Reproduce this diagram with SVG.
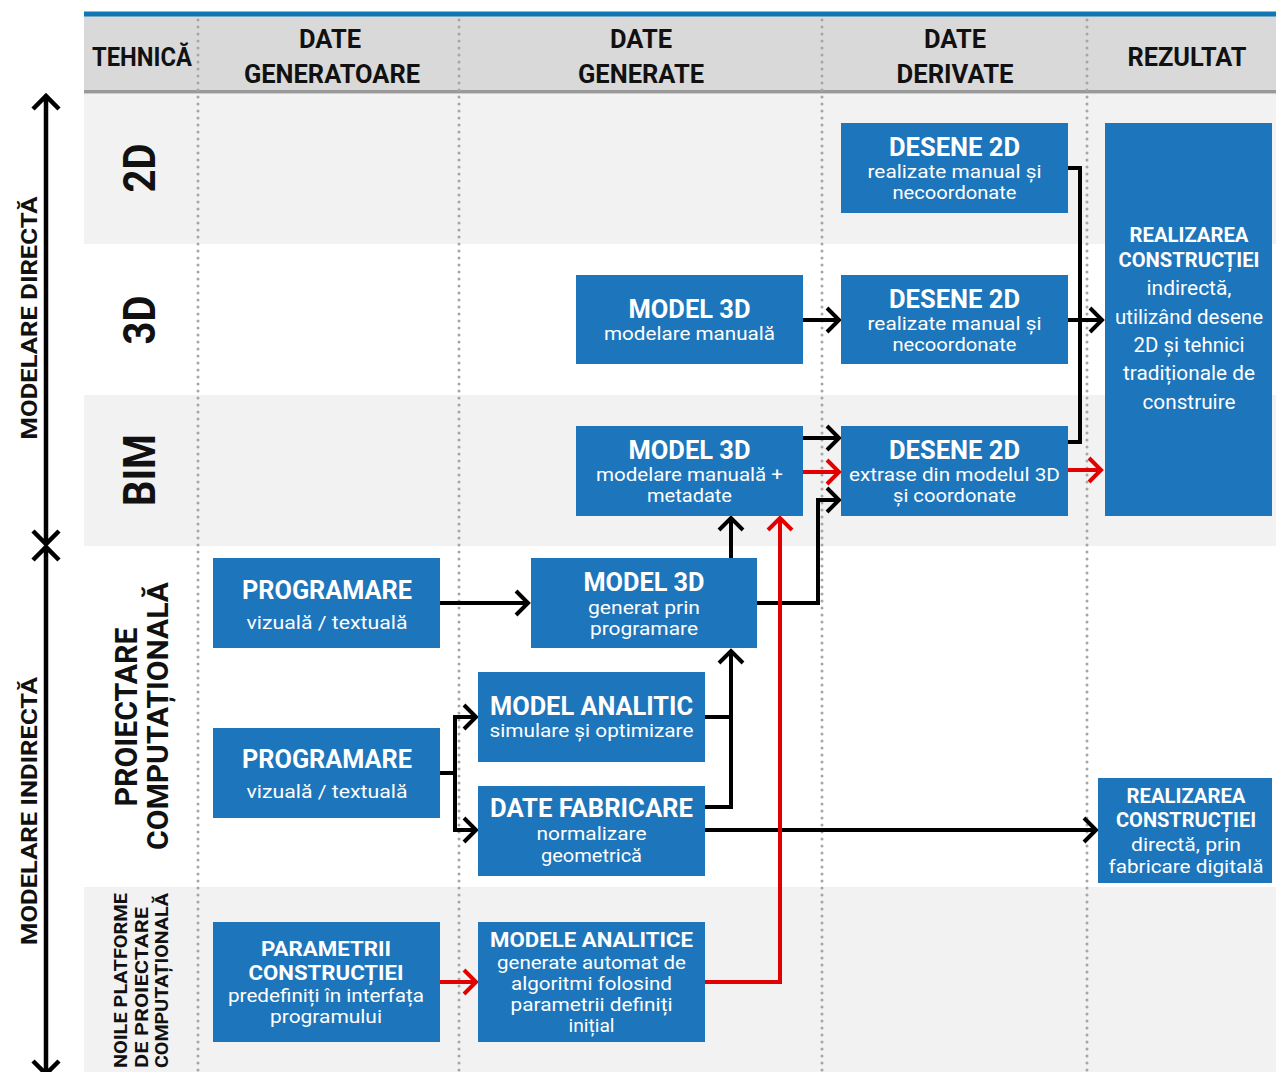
<svg xmlns="http://www.w3.org/2000/svg" width="1276" height="1072" viewBox="0 0 1276 1072">
  <defs>
    <style>
      .hd { font-family: Roboto, "Liberation Sans", sans-serif; font-weight: 700; font-size: 25px; fill: #111; text-anchor: middle; }
      .rl { font-family: Roboto, "Liberation Sans", sans-serif; font-weight: 700; fill: #111; text-anchor: middle; }
      .rs { font-family: Roboto, "Liberation Sans", sans-serif; font-weight: 700; font-size: 19px; fill: #111; text-anchor: start; }
      .ax { font-family: Roboto, "Liberation Sans", sans-serif; font-weight: 700; font-size: 22px; fill: #111; text-anchor: middle; }
      .box { fill: #1d75bb; }
      .t { font-family: Roboto, "Liberation Sans", sans-serif; font-weight: 700; font-size: 25px; fill: #fff; text-anchor: middle; }
      .t2 { font-family: Roboto, "Liberation Sans", sans-serif; font-weight: 700; font-size: 21px; fill: #fff; text-anchor: middle; }
      .s { font-family: Roboto, "Liberation Sans", sans-serif; font-weight: 400; font-size: 19px; fill: #fff; text-anchor: middle; }
      .s2 { font-family: Roboto, "Liberation Sans", sans-serif; font-weight: 400; font-size: 20px; fill: #fff; text-anchor: middle; }
      .dots { stroke: #a6a6a6; stroke-width: 3; stroke-linecap: round; stroke-dasharray: 0 7; fill: none; }
      .k { stroke: #000; stroke-width: 4; fill: none; stroke-linejoin: miter; }
      .r { stroke: #e30000; stroke-width: 4; fill: none; stroke-linejoin: miter; }
      .axis { stroke: #000; stroke-width: 4.5; fill: none; }
    </style>
  </defs>

  <!-- table background -->
  <g id="table">
    <rect x="0" y="0" width="1276" height="1072" fill="#fff"/>
    <rect x="84" y="16" width="1192" height="75" fill="#d9d9d9"/>
    <rect x="84" y="11.5" width="1192" height="5" fill="#1276b5"/>
    <rect x="84" y="90" width="1192" height="3.5" fill="#999"/>
    <rect x="84" y="94" width="1192" height="150" fill="#f2f2f2"/>
    <rect x="84" y="395" width="1192" height="151" fill="#f2f2f2"/>
    <rect x="84" y="887" width="1192" height="185" fill="#f2f2f2"/>
    <path class="dots" d="M198,20 V1072 M459,20 V1072 M822,20 V1072 M1087,20 V1072"/>
  </g>

  <!-- column headers -->
  <g id="headers">
    <text class="hd" x="142" y="66" textLength="100" lengthAdjust="spacingAndGlyphs">TEHNICĂ</text>
    <text class="hd" x="330" y="48" textLength="62" lengthAdjust="spacingAndGlyphs">DATE</text>
    <text class="hd" x="332" y="83" textLength="176" lengthAdjust="spacingAndGlyphs">GENERATOARE</text>
    <text class="hd" x="641" y="48" textLength="62" lengthAdjust="spacingAndGlyphs">DATE</text>
    <text class="hd" x="641" y="83" textLength="126" lengthAdjust="spacingAndGlyphs">GENERATE</text>
    <text class="hd" x="955" y="48" textLength="62" lengthAdjust="spacingAndGlyphs">DATE</text>
    <text class="hd" x="955" y="83" textLength="117" lengthAdjust="spacingAndGlyphs">DERIVATE</text>
    <text class="hd" x="1187" y="66" textLength="119" lengthAdjust="spacingAndGlyphs">REZULTAT</text>
  </g>

  <!-- left axis -->
  <g id="axis">
    <path class="axis" d="M46,96 V543 M33,109 L46,96 L59,109 M33,531 L46,544 L59,531"/>
    <path class="axis" d="M46,547 V1072 M33,560 L46,547 L59,560 M33,1061 L46,1074 L59,1061"/>
    <text class="ax" transform="translate(37,318) rotate(-90)" textLength="243" lengthAdjust="spacingAndGlyphs">MODELARE DIRECTĂ</text>
    <text class="ax" transform="translate(37,811) rotate(-90)" textLength="268" lengthAdjust="spacingAndGlyphs">MODELARE INDIRECTĂ</text>
  </g>

  <!-- row labels -->
  <g id="rows">
    <text class="rl" font-size="44" transform="translate(155,168) rotate(-90)" textLength="49" lengthAdjust="spacingAndGlyphs">2D</text>
    <text class="rl" font-size="44" transform="translate(155,320) rotate(-90)" textLength="49" lengthAdjust="spacingAndGlyphs">3D</text>
    <text class="rl" font-size="44" transform="translate(155,470) rotate(-90)" textLength="72" lengthAdjust="spacingAndGlyphs">BIM</text>
    <text class="rl" font-size="32" transform="translate(137,717) rotate(-90)" textLength="179" lengthAdjust="spacingAndGlyphs">PROIECTARE</text>
    <text class="rl" font-size="30" transform="translate(168,716) rotate(-90)" textLength="268" lengthAdjust="spacingAndGlyphs">COMPUTAȚIONALĂ</text>
    <text class="rs" transform="translate(127,1068) rotate(-90)" textLength="175" lengthAdjust="spacingAndGlyphs">NOILE PLATFORME</text>
    <text class="rs" transform="translate(148,1068) rotate(-90)" textLength="161" lengthAdjust="spacingAndGlyphs">DE PROIECTARE</text>
    <text class="rs" transform="translate(168,1068) rotate(-90)" textLength="175" lengthAdjust="spacingAndGlyphs">COMPUTAȚIONALĂ</text>
  </g>

  <!-- connectors -->
  <g id="connectors">
    <!-- 2D / 3D / BIM drawings into indirect construction -->
    <path class="k" d="M1068,168 H1080 V442 H1068"/>
    <path class="k" d="M1068,320 H1102 M1090,308 L1102,320 L1090,332"/>
    <path class="r" d="M1068,470 H1101 M1089,458 L1101,470 L1089,482"/>
    <!-- model 3D to drawings -->
    <path class="k" d="M803,320 H839 M827,308 L839,320 L827,332"/>
    <path class="k" d="M803,438 H839 M827,426 L839,438 L827,450"/>
    <path class="r" d="M803,472 H839 M827,460 L839,472 L827,484"/>
    <path class="k" d="M757,603 H818 V500 H839 M827,488 L839,500 L827,512"/>
    <!-- generated model upward -->
    <path class="k" d="M731,558 V518 M719,530 L731,518 L743,530"/>
    <path class="k" d="M440,603 H528 M516,591 L528,603 L516,615"/>
    <!-- programming branches -->
    <path class="k" d="M440,773 H455 V717 H476 M455,773 V830 H476 M464,705 L476,717 L464,729 M464,818 L476,830 L464,842"/>
    <path class="k" d="M705,717 H731 V651 M705,807 H731 V717 M719,663 L731,651 L743,663"/>
    <path class="k" d="M705,830 H1096 M1084,818 L1096,830 L1084,842"/>
    <!-- new platforms -->
    <path class="r" d="M440,982 H476 M464,970 L476,982 L464,994"/>
    <path class="r" d="M705,982 H780 V518 M768,530 L780,518 L792,530"/>
  </g>

  <!-- nodes -->
  <g id="desene-2d">
    <rect class="box" x="841" y="123" width="227" height="90"/>
    <text class="t" x="954.5" y="156" textLength="131" lengthAdjust="spacingAndGlyphs">DESENE 2D</text>
    <text class="s" x="954.5" y="178" textLength="174" lengthAdjust="spacingAndGlyphs">realizate manual și</text>
    <text class="s" x="954.5" y="199" textLength="124" lengthAdjust="spacingAndGlyphs">necoordonate</text>
  </g>

  <g id="model-3d-manual">
    <rect class="box" x="576" y="275" width="227" height="89"/>
    <text class="t" x="689.5" y="318" textLength="122" lengthAdjust="spacingAndGlyphs">MODEL 3D</text>
    <text class="s" x="689.5" y="340" textLength="171" lengthAdjust="spacingAndGlyphs">modelare manuală</text>
  </g>

  <g id="desene-3d">
    <rect class="box" x="841" y="275" width="227" height="89"/>
    <text class="t" x="954.5" y="308" textLength="131" lengthAdjust="spacingAndGlyphs">DESENE 2D</text>
    <text class="s" x="954.5" y="330" textLength="174" lengthAdjust="spacingAndGlyphs">realizate manual și</text>
    <text class="s" x="954.5" y="351" textLength="124" lengthAdjust="spacingAndGlyphs">necoordonate</text>
  </g>

  <g id="model-3d-bim">
    <rect class="box" x="576" y="426" width="227" height="90"/>
    <text class="t" x="689.5" y="459" textLength="122" lengthAdjust="spacingAndGlyphs">MODEL 3D</text>
    <text class="s" x="689.5" y="481" textLength="187" lengthAdjust="spacingAndGlyphs">modelare manuală +</text>
    <text class="s" x="689.5" y="502" textLength="85" lengthAdjust="spacingAndGlyphs">metadate</text>
  </g>

  <g id="desene-bim">
    <rect class="box" x="841" y="426" width="227" height="90"/>
    <text class="t" x="954.5" y="459" textLength="131" lengthAdjust="spacingAndGlyphs">DESENE 2D</text>
    <text class="s" x="954.5" y="481" textLength="211" lengthAdjust="spacingAndGlyphs">extrase din modelul 3D</text>
    <text class="s" x="954.5" y="502" textLength="123" lengthAdjust="spacingAndGlyphs">și coordonate</text>
  </g>

  <g id="realizare-indirecta">
    <rect class="box" x="1105" y="123" width="167" height="393"/>
    <text class="t2" x="1189" y="242" textLength="119" lengthAdjust="spacingAndGlyphs">REALIZAREA</text>
    <text class="t2" x="1189" y="267" textLength="141" lengthAdjust="spacingAndGlyphs">CONSTRUCȚIEI</text>
    <text class="s2" x="1189" y="295" textLength="85" lengthAdjust="spacingAndGlyphs">indirectă,</text>
    <text class="s2" x="1189" y="324" textLength="148" lengthAdjust="spacingAndGlyphs">utilizând desene</text>
    <text class="s2" x="1189" y="352" textLength="111" lengthAdjust="spacingAndGlyphs">2D și tehnici</text>
    <text class="s2" x="1189" y="380" textLength="132" lengthAdjust="spacingAndGlyphs">tradiționale de</text>
    <text class="s2" x="1189" y="409" textLength="93" lengthAdjust="spacingAndGlyphs">construire</text>
  </g>

  <g id="programare-1">
    <rect class="box" x="213" y="558" width="227" height="90"/>
    <text class="t" x="327" y="599" textLength="170" lengthAdjust="spacingAndGlyphs">PROGRAMARE</text>
    <text class="s" x="327" y="629" textLength="161" lengthAdjust="spacingAndGlyphs">vizuală / textuală</text>
  </g>

  <g id="model-3d-generat">
    <rect class="box" x="531" y="558" width="226" height="90"/>
    <text class="t" x="644" y="591" textLength="121" lengthAdjust="spacingAndGlyphs">MODEL 3D</text>
    <text class="s" x="644" y="614" textLength="112" lengthAdjust="spacingAndGlyphs">generat prin</text>
    <text class="s" x="644" y="635" textLength="108" lengthAdjust="spacingAndGlyphs">programare</text>
  </g>

  <g id="model-analitic">
    <rect class="box" x="478" y="672" width="227" height="90"/>
    <text class="t" x="591.5" y="715" textLength="203" lengthAdjust="spacingAndGlyphs">MODEL ANALITIC</text>
    <text class="s" x="591.5" y="737" textLength="204" lengthAdjust="spacingAndGlyphs">simulare și optimizare</text>
  </g>

  <g id="programare-2">
    <rect class="box" x="213" y="728" width="227" height="90"/>
    <text class="t" x="327" y="768" textLength="170" lengthAdjust="spacingAndGlyphs">PROGRAMARE</text>
    <text class="s" x="327" y="798" textLength="161" lengthAdjust="spacingAndGlyphs">vizuală / textuală</text>
  </g>

  <g id="date-fabricare">
    <rect class="box" x="478" y="786" width="227" height="90"/>
    <text class="t" x="591.5" y="817" textLength="203" lengthAdjust="spacingAndGlyphs">DATE FABRICARE</text>
    <text class="s" x="591.5" y="840" textLength="110" lengthAdjust="spacingAndGlyphs">normalizare</text>
    <text class="s" x="591.5" y="862" textLength="101" lengthAdjust="spacingAndGlyphs">geometrică</text>
  </g>

  <g id="realizare-directa">
    <rect class="box" x="1098" y="778" width="174" height="105"/>
    <text class="t2" x="1186" y="803" textLength="119" lengthAdjust="spacingAndGlyphs">REALIZAREA</text>
    <text class="t2" x="1186" y="827" textLength="140" lengthAdjust="spacingAndGlyphs">CONSTRUCȚIEI</text>
    <text class="s" x="1186" y="851" textLength="110" lengthAdjust="spacingAndGlyphs">directă, prin</text>
    <text class="s" x="1186" y="873" textLength="155" lengthAdjust="spacingAndGlyphs">fabricare digitală</text>
  </g>

  <g id="parametrii">
    <rect class="box" x="213" y="922" width="227" height="120"/>
    <text class="t2" x="326" y="956" font-size="22" textLength="130" lengthAdjust="spacingAndGlyphs">PARAMETRII</text>
    <text class="t2" x="326" y="980" font-size="22" textLength="155" lengthAdjust="spacingAndGlyphs">CONSTRUCȚIEI</text>
    <text class="s" x="326" y="1002" textLength="196" lengthAdjust="spacingAndGlyphs">predefiniți în interfața</text>
    <text class="s" x="326" y="1023" textLength="112" lengthAdjust="spacingAndGlyphs">programului</text>
  </g>

  <g id="modele-analitice">
    <rect class="box" x="478" y="922" width="227" height="120"/>
    <text class="t2" x="591.5" y="947" font-size="22" textLength="203" lengthAdjust="spacingAndGlyphs">MODELE ANALITICE</text>
    <text class="s" x="591.5" y="969" textLength="189" lengthAdjust="spacingAndGlyphs">generate automat de</text>
    <text class="s" x="591.5" y="990" textLength="161" lengthAdjust="spacingAndGlyphs">algoritmi folosind</text>
    <text class="s" x="591.5" y="1011" textLength="162" lengthAdjust="spacingAndGlyphs">parametrii definiți</text>
    <text class="s" x="591.5" y="1032" textLength="46" lengthAdjust="spacingAndGlyphs">inițial</text>
  </g>
</svg>
